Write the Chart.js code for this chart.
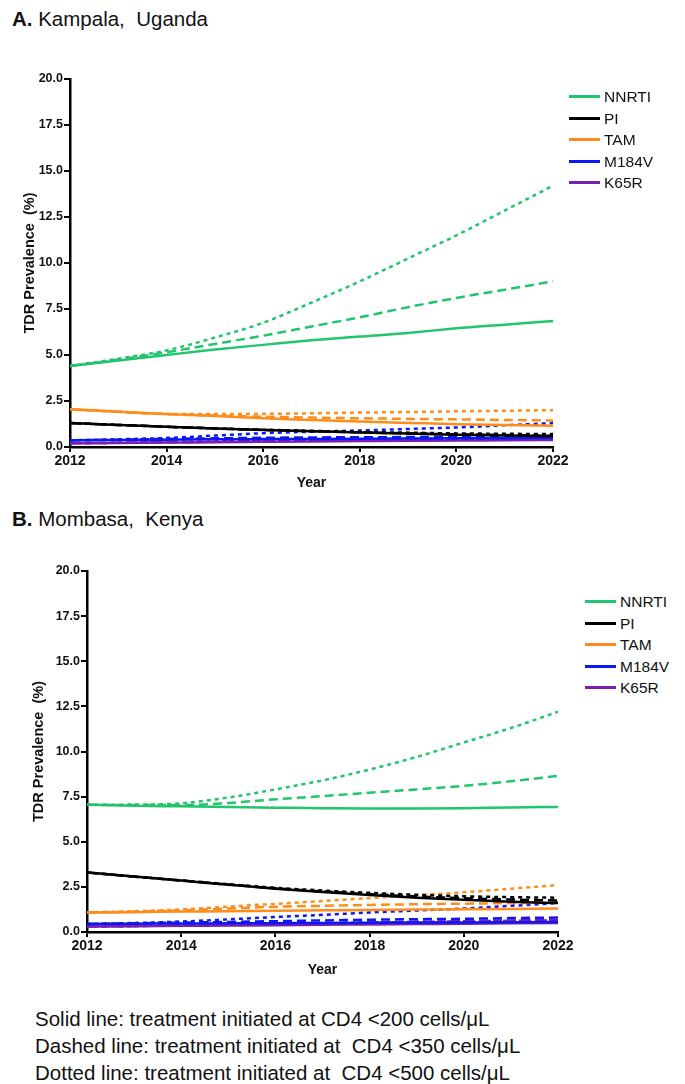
<!DOCTYPE html>
<html>
<head>
<meta charset="utf-8">
<script src="https://cdn.jsdelivr.net/npm/chart.js@4.4.1/dist/chart.umd.min.js"></script>
<style>
  body { margin:0; background:#fff; width:685px; height:1084px; position:relative; overflow:hidden;
         font-family: Arial, "Liberation Sans", sans-serif; color:#111; }
  .ttl { position:absolute; left:12px; font-size:20.5px; }
  .ttl b { font-weight:bold; }
  .cv { position:absolute; left:0; }
  .legend { position:absolute; font-size:15.5px; }
  .legend div { height:21.5px; line-height:21.5px; display:flex; align-items:center; }
  .legend span.sw { display:inline-block; width:31px; height:3px; margin-right:4px; }
  .notes { position:absolute; left:35px; top:1005px; font-size:20.5px; line-height:27px; }
</style>
</head>
<body>
<div class="ttl" style="top:7px"><b>A.</b> Kampala,&nbsp; Uganda</div>
<div class="cv" style="top:60px"><canvas id="chartA" width="580" height="432"></canvas></div>
<div class="legend" id="legA" style="left:569px; top:86px"></div>

<div class="ttl" style="top:507px"><b>B.</b> Mombasa,&nbsp; Kenya</div>
<div class="cv" style="top:540px"><canvas id="chartB" width="585" height="439"></canvas></div>
<div class="legend" id="legB" style="left:585px; top:591px"></div>

<div class="notes">
  <div>Solid line: treatment initiated at CD4 &lt;200 cells/&mu;L</div>
  <div>Dashed line: treatment initiated at&nbsp; CD4 &lt;350 cells/&mu;L</div>
  <div>Dotted line: treatment initiated at&nbsp; CD4 &lt;500 cells/&mu;L</div>
</div>

<script>
// ---- data ----
const years = [2012,2013,2014,2015,2016,2017,2018,2019,2020,2021,2022];
const markers = ["NNRTI","PI","TAM","M184V","K65R"];
const markerColors = ["#22c46c","#000000","#ff8c1a","#0c18f0","#7a1fb2"];
const yTicks = [0,2.5,5,7.5,10,12.5,15,17.5,20];

// Kampala, Uganda (CD4 <200 / <350 / <500)
const kNNRTI200 = [4.4,4.7,5.0,5.3,5.55,5.8,6.0,6.2,6.45,6.65,6.85];
const kNNRTI350 = [4.4,4.75,5.15,5.6,6.05,6.55,7.05,7.6,8.1,8.55,9.0];
const kNNRTI500 = [4.4,4.8,5.25,5.95,6.75,7.85,9.0,10.25,11.5,12.85,14.2];
const kPI200 = [1.3,1.2,1.1,1.01,0.93,0.86,0.79,0.73,0.67,0.62,0.58];
const kPI350 = [1.3,1.2,1.1,1.01,0.93,0.86,0.8,0.74,0.69,0.65,0.61];
const kPI500 = [1.3,1.2,1.1,1.01,0.94,0.88,0.82,0.78,0.74,0.72,0.7];
const kTAM200 = [2.05,1.92,1.8,1.68,1.56,1.47,1.38,1.31,1.24,1.19,1.15];
const kTAM350 = [2.05,1.91,1.78,1.71,1.65,1.6,1.56,1.53,1.5,1.47,1.44];
const kTAM500 = [2.05,1.92,1.8,1.79,1.8,1.83,1.87,1.9,1.94,1.97,2.0];
const kM184V200 = [0.36,0.38,0.4,0.42,0.43,0.44,0.45,0.46,0.47,0.48,0.49];
const kM184V350 = [0.36,0.4,0.44,0.47,0.5,0.52,0.53,0.54,0.55,0.55,0.55];
const kM184V500 = [0.36,0.42,0.49,0.62,0.75,0.83,0.9,0.98,1.06,1.18,1.3];
const kK65R200 = [0.2,0.22,0.24,0.26,0.28,0.3,0.32,0.34,0.35,0.37,0.38];
const kK65R350 = [0.2,0.23,0.26,0.29,0.32,0.35,0.37,0.39,0.41,0.43,0.45];
const kK65R500 = [0.2,0.23,0.27,0.3,0.34,0.37,0.4,0.43,0.46,0.48,0.5];

// Mombasa, Kenya
const mNNRTI200 = [7.05,7.0,6.96,6.92,6.89,6.86,6.84,6.84,6.86,6.9,6.93];
const mNNRTI350 = [7.05,7.03,7.03,7.15,7.35,7.53,7.72,7.9,8.1,8.35,8.65];
const mNNRTI500 = [7.05,7.06,7.13,7.45,7.9,8.4,9.0,9.7,10.5,11.3,12.2];
const mPI200 = [3.3,3.07,2.85,2.62,2.4,2.22,2.05,1.9,1.78,1.68,1.6];
const mPI350 = [3.3,3.07,2.85,2.63,2.42,2.25,2.1,1.97,1.87,1.8,1.75];
const mPI500 = [3.3,3.07,2.86,2.65,2.45,2.3,2.17,2.06,1.98,1.93,1.9];
const mTAM200 = [1.08,1.1,1.13,1.15,1.18,1.2,1.22,1.24,1.26,1.28,1.3];
const mTAM350 = [1.08,1.13,1.2,1.3,1.4,1.45,1.5,1.54,1.57,1.6,1.63];
const mTAM500 = [1.08,1.15,1.25,1.4,1.56,1.72,1.88,2.04,2.2,2.4,2.6];
const mM184V200 = [0.45,0.46,0.47,0.48,0.49,0.5,0.51,0.52,0.53,0.54,0.55];
const mM184V350 = [0.45,0.48,0.52,0.56,0.6,0.64,0.68,0.71,0.73,0.77,0.8];
const mM184V500 = [0.45,0.5,0.58,0.7,0.83,0.95,1.08,1.19,1.3,1.45,1.6];
const mK65R200 = [0.3,0.32,0.34,0.36,0.38,0.4,0.42,0.44,0.46,0.48,0.5];
const mK65R350 = [0.3,0.33,0.37,0.41,0.45,0.49,0.53,0.57,0.6,0.64,0.67];
const mK65R500 = [0.3,0.33,0.37,0.41,0.45,0.49,0.53,0.56,0.59,0.62,0.65];

const kampala = [
  [kNNRTI200,kNNRTI350,kNNRTI500],
  [kPI200,kPI350,kPI500],
  [kTAM200,kTAM350,kTAM500],
  [kM184V200,kM184V350,kM184V500],
  [kK65R200,kK65R350,kK65R500]
];
const mombasa = [
  [mNNRTI200,mNNRTI350,mNNRTI500],
  [mPI200,mPI350,mPI500],
  [mTAM200,mTAM350,mTAM500],
  [mM184V200,mM184V350,mM184V500],
  [mK65R200,mK65R350,mK65R500]
];
const dashes = [[], [9,5], [4,4]];

Chart.defaults.font.family = 'Arial, "Liberation Sans", sans-serif';
Chart.defaults.color = "#111";

function makeChart(id, site, cfg){
  const datasets = [];
  site.forEach((trio, i) => {
    trio.forEach((vals, j) => {
      datasets.push({
        label: markers[i],
        data: vals.map((v,k) => ({x: years[k], y: v})),
        borderColor: markerColors[i],
        borderWidth: 2.5,
        borderDash: dashes[j],
        pointRadius: 0,
        cubicInterpolationMode: "monotone",
        fill: false
      });
    });
  });
  return new Chart(document.getElementById(id), {
    type: "line",
    data: { datasets },
    options: {
      responsive: false,
      animation: false,
      layout: { padding: { top: cfg.top, right: cfg.right, left: 0, bottom: 0 } },
      plugins: { legend: { display: false }, tooltip: { enabled: false } },
      scales: {
        x: {
          type: "linear", min: 2012, max: 2022,
          afterFit: s => { s.height = cfg.xh; },
          border: { color: "#000", width: 2.5 },
          grid: { drawOnChartArea: false, color: "#000", lineWidth: 2, tickLength: 5 },
          ticks: { stepSize: 2, padding: 1, font: { size: 14, weight: "bold" }, color: "#111",
                   callback: v => String(v) },
          title: { display: true, text: "Year", font: { size: 14, weight: "bold" }, color: "#111",
                   padding: { top: 2, bottom: 0 } }
        },
        y: {
          min: 0, max: 20,
          afterFit: s => { s.width = cfg.yw; },
          afterBuildTicks: s => { s.ticks = yTicks.map(v => ({value: v})); },
          border: { color: "#000", width: 2.5 },
          grid: { drawOnChartArea: false, color: "#000", lineWidth: 2, tickLength: 6 },
          ticks: { padding: 1, font: { size: 12.5, weight: "bold" }, color: "#111",
                   callback: v => v.toFixed(1) },
          title: { display: true, text: "TDR Prevalence  (%)", font: { size: 14.5, weight: "bold" },
                   color: "#111", padding: { top: cfg.ytp, bottom: 0 } }
        }
      }
    }
  });
}

function makeLegend(id){
  const el = document.getElementById(id);
  markers.forEach((m, i) => {
    const row = document.createElement("div");
    row.innerHTML = '<span class="sw" style="background:' + markerColors[i] + '"></span>' + m;
    el.appendChild(row);
  });
}

makeChart("chartA", kampala, { top: 19, right: 27, xh: 45, yw: 70, ytp: 21 });
makeChart("chartB", mombasa, { top: 31, right: 27, xh: 47, yw: 87, ytp: 30 });
makeLegend("legA");
makeLegend("legB");
</script>
</body>
</html>
